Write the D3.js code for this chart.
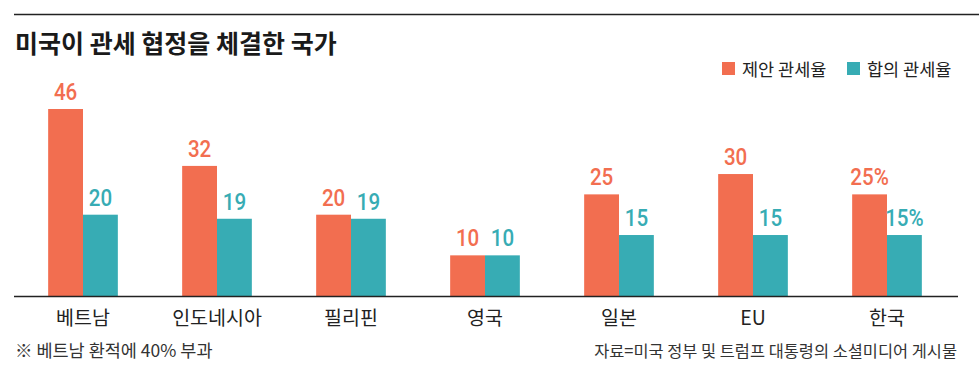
<!DOCTYPE html>
<html><head><meta charset="utf-8">
<script src="https://cdn.jsdelivr.net/npm/d3@7"></script>
<style>body{margin:0;background:#fff}svg{display:block}</style>
</head><body>
<svg id="c" width="979" height="381"></svg>
<script>
const categories = ["베트남","인도네시아","필리핀","영국","일본","EU","한국"];
const proposed = [46,32,20,10,25,30,25];
const agreed = [20,19,19,10,15,15,15];
const proposedLabels = ["46","32","20","10","25","30","25%"];
const agreedLabels = ["20","19","19","10","15","15","15%"];
const seriesNames = ["제안 관세율","합의 관세율"];
const colors = ["#F26E50","#37ACB4"];

const svg = d3.select("#c");
const kr = "'Noto Sans CJK KR','Noto Sans',sans-serif";
const num = "'Roboto',sans-serif";

svg.append("line").attr("x1",14).attr("x2",979).attr("y1",14.5).attr("y2",14.5).attr("stroke","#222").attr("stroke-width",1.5);
svg.append("text").attr("x",15).attr("y",53).attr("font-family",kr).attr("font-weight",700).attr("font-size",25).attr("fill","#1a1a1a").text("미국이 관세 협정을 체결한 국가");

const x0 = d3.scaleBand().domain(categories).range([16,954]).paddingInner(0.48).paddingOuter(0.24);
const x1 = d3.scaleBand().domain([0,1]).range([0,x0.bandwidth()]);
const y = d3.scaleLinear().domain([0,46]).range([296,109]);

const g = svg.append("g");
categories.forEach((c,i)=>{
  [proposed[i],agreed[i]].forEach((v,j)=>{
    const bx = x0(c)+x1(j);
    g.append("rect").attr("x",bx).attr("y",y(v)).attr("width",x1.bandwidth()).attr("height",y(0)-y(v)).attr("fill",colors[j]);
    const cx = bx+x1.bandwidth()/2, cy = y(v)-9;
    g.append("text").attr("transform",`translate(${cx},${cy}) scale(0.84,1)`).attr("text-anchor","middle")
      .attr("font-family",num).attr("font-weight",500).attr("font-size",24.5).attr("fill",colors[j])
      .text(j===0?proposedLabels[i]:agreedLabels[i]);
  });
  svg.append("text").attr("x",x0(c)+x0.bandwidth()/2).attr("y",325).attr("text-anchor","middle")
    .attr("font-family",kr).attr("font-weight",400).attr("font-size",19.5).attr("fill","#222").text(c);
});

svg.append("line").attr("x1",14).attr("x2",958).attr("y1",296.5).attr("y2",296.5).attr("stroke","#222").attr("stroke-width",1.5);

// legend
const lx=[722,847];
seriesNames.forEach((n,j)=>{
  svg.append("rect").attr("x",lx[j]).attr("y",62).attr("width",13).attr("height",13).attr("fill",colors[j]);
  svg.append("text").attr("x",lx[j]+20).attr("y",76).attr("font-family",kr).attr("font-size",17.5).attr("fill","#222").text(n);
});

svg.append("text").attr("x",15).attr("y",357).attr("font-family",kr).attr("font-size",17.5).attr("fill","#333").text("※ 베트남 환적에 40% 부과");
svg.append("text").attr("x",957).attr("y",357).attr("text-anchor","end").attr("font-family",kr).attr("font-size",16.4).attr("fill","#333").text("자료=미국 정부 및 트럼프 대통령의 소셜미디어 게시물");
</script>
</body></html>
